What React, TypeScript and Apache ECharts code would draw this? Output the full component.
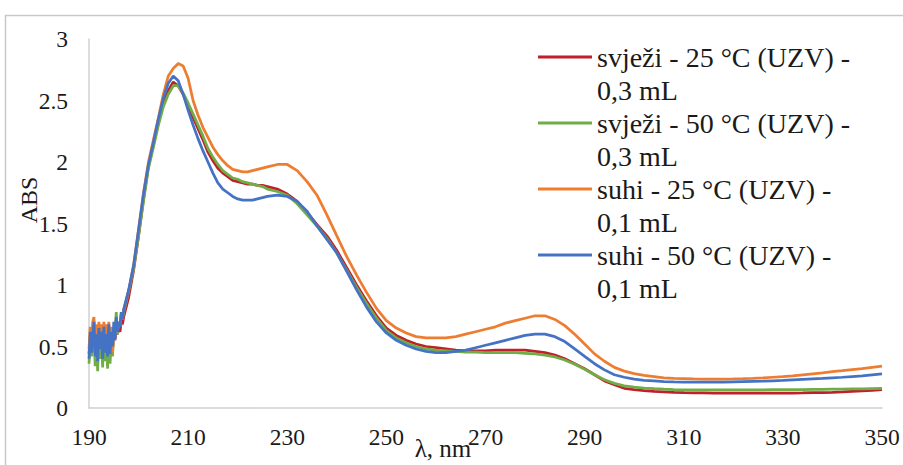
import React, { useEffect, useRef } from "react";
import * as echarts from "echarts";

// Wavelengths (nm)
const WL_NOISE = [190, 190.25, 190.5, 190.75, 191, 191.25, 191.5, 191.75, 192, 192.25, 192.5, 192.75, 193, 193.25, 193.5, 193.75, 194, 194.25, 194.5, 194.75, 195, 195.25, 195.5, 195.75, 196, 196.25, 196.5, 196.75, 197];
const WL_PEAK = [198, 199, 200, 201, 202, 203, 204, 205, 206, 207, 208, 209, 210, 211, 212, 213, 214, 215, 216, 217, 218, 219, 220, 221, 222, 223, 224, 225];
const WL_TAIL = [226, 228, 230, 232, 234, 236, 238, 240, 242, 244, 246, 248, 250, 252, 254, 256, 258, 260, 262, 264, 266, 268, 270, 272, 274, 276, 278, 280, 282, 284, 286, 288, 290, 292, 294, 296, 298, 300, 302, 304, 306, 308, 310, 312, 314, 316, 318, 320, 322, 324, 326, 328, 330, 332, 334, 336, 338, 340, 342, 344, 346, 348, 350];

const X_TICKS = [190, 210, 230, 250, 270, 290, 310, 330, 350];

const NAMES = [
  "svježi - 25 °C (UZV) - 0,3 mL",
  "svježi - 50 °C (UZV) - 0,3 mL",
  "suhi - 25 °C (UZV) - 0,1 mL",
  "suhi - 50 °C (UZV) - 0,1 mL",
];
const COLORS = ["#C0202A", "#70AD47", "#ED7D31", "#4472C4"];

// svježi - 25 °C
const RED_NOISE = [0.44, 0.58, 0.46, 0.6, 0.64, 0.45, 0.58, 0.42, 0.62, 0.47, 0.6, 0.44, 0.62, 0.46, 0.58, 0.44, 0.62, 0.46, 0.58, 0.48, 0.6, 0.56, 0.62, 0.6, 0.64, 0.62, 0.7, 0.68, 0.74];
const RED_PEAK = [0.9, 1.12, 1.4, 1.7, 1.97, 2.14, 2.32, 2.48, 2.58, 2.65, 2.62, 2.55, 2.46, 2.36, 2.27, 2.18, 2.08, 2.01, 1.95, 1.91, 1.88, 1.85, 1.84, 1.83, 1.82, 1.82, 1.81, 1.81];
const RED_TAIL = [1.8, 1.78, 1.74, 1.68, 1.59, 1.49, 1.4, 1.28, 1.14, 1.0, 0.87, 0.75, 0.65, 0.59, 0.55, 0.52, 0.5, 0.49, 0.48, 0.47, 0.465, 0.465, 0.465, 0.47, 0.47, 0.47, 0.47, 0.46, 0.45, 0.43, 0.4, 0.36, 0.32, 0.27, 0.22, 0.19, 0.16, 0.15, 0.142, 0.136, 0.132, 0.128, 0.125, 0.123, 0.122, 0.121, 0.12, 0.12, 0.12, 0.12, 0.12, 0.12, 0.12, 0.121, 0.122, 0.124, 0.126, 0.128, 0.131, 0.135, 0.139, 0.144, 0.15];

// svježi - 50 °C
const GREEN_NOISE = [0.36, 0.55, 0.42, 0.56, 0.6, 0.34, 0.55, 0.3, 0.58, 0.4, 0.55, 0.33, 0.62, 0.38, 0.56, 0.32, 0.6, 0.36, 0.56, 0.42, 0.64, 0.62, 0.78, 0.6, 0.7, 0.66, 0.76, 0.72, 0.78];
const GREEN_PEAK = [0.95, 1.13, 1.4, 1.68, 1.95, 2.12, 2.3, 2.45, 2.55, 2.62, 2.62, 2.56, 2.48, 2.39, 2.3, 2.21, 2.11, 2.04, 1.98, 1.93, 1.9, 1.87, 1.86, 1.84, 1.83, 1.82, 1.81, 1.8];
const GREEN_TAIL = [1.78, 1.76, 1.73, 1.66, 1.57, 1.48, 1.38, 1.26, 1.12, 0.98, 0.85, 0.73, 0.63, 0.57, 0.53, 0.5, 0.48, 0.47, 0.465, 0.46, 0.455, 0.455, 0.45, 0.45, 0.45, 0.45, 0.445, 0.44, 0.43, 0.415, 0.39, 0.355, 0.315, 0.27, 0.23, 0.2, 0.18, 0.17, 0.162, 0.157, 0.153, 0.15, 0.148, 0.147, 0.147, 0.147, 0.147, 0.147, 0.148, 0.148, 0.148, 0.149, 0.149, 0.15, 0.15, 0.151, 0.152, 0.153, 0.154, 0.155, 0.156, 0.158, 0.16];

// suhi - 25 °C
const ORANGE_NOISE = [0.48, 0.66, 0.55, 0.7, 0.74, 0.55, 0.68, 0.52, 0.7, 0.58, 0.68, 0.5, 0.7, 0.56, 0.68, 0.52, 0.7, 0.48, 0.66, 0.45, 0.62, 0.58, 0.72, 0.65, 0.7, 0.68, 0.76, 0.74, 0.8];
const ORANGE_PEAK = [0.95, 1.16, 1.45, 1.75, 2.0, 2.18, 2.36, 2.55, 2.7, 2.76, 2.8, 2.78, 2.68, 2.5, 2.38, 2.28, 2.2, 2.12, 2.06, 2.01, 1.97, 1.94, 1.93, 1.92, 1.92, 1.93, 1.94, 1.95];
const ORANGE_TAIL = [1.96, 1.98, 1.98, 1.93, 1.84, 1.73, 1.57, 1.4, 1.23, 1.08, 0.94, 0.81, 0.71, 0.65, 0.61, 0.58, 0.57, 0.57, 0.57, 0.58, 0.6, 0.62, 0.64, 0.66, 0.69, 0.71, 0.73, 0.75, 0.75, 0.72, 0.67, 0.6, 0.52, 0.44, 0.38, 0.33, 0.3, 0.28, 0.265, 0.255, 0.245, 0.24, 0.238, 0.236, 0.235, 0.235, 0.235, 0.236, 0.238, 0.241, 0.245, 0.25, 0.255, 0.262, 0.27, 0.278, 0.286, 0.295, 0.303, 0.312, 0.32, 0.33, 0.34];

// suhi - 50 °C
const BLUE_NOISE = [0.4, 0.62, 0.45, 0.58, 0.7, 0.42, 0.6, 0.38, 0.65, 0.48, 0.62, 0.4, 0.66, 0.45, 0.6, 0.42, 0.68, 0.44, 0.62, 0.5, 0.7, 0.55, 0.74, 0.62, 0.7, 0.66, 0.78, 0.72, 0.8];
const BLUE_PEAK = [0.96, 1.16, 1.45, 1.74, 1.98, 2.16, 2.35, 2.52, 2.64, 2.7, 2.66, 2.55, 2.42, 2.3, 2.19, 2.09, 2.0, 1.91, 1.83, 1.78, 1.75, 1.72, 1.7, 1.69, 1.69, 1.69, 1.7, 1.71];
const BLUE_TAIL = [1.72, 1.73, 1.72, 1.68, 1.6, 1.48, 1.37, 1.26, 1.11, 0.96, 0.82, 0.7, 0.61, 0.55, 0.51, 0.48, 0.46, 0.45, 0.45, 0.46, 0.47, 0.49, 0.51, 0.53, 0.55, 0.57, 0.59, 0.6, 0.6, 0.58, 0.54, 0.48, 0.42, 0.36, 0.31, 0.27, 0.25, 0.235, 0.225, 0.22, 0.215, 0.212, 0.21, 0.21, 0.21, 0.21, 0.21, 0.212, 0.214, 0.216, 0.218, 0.221, 0.224, 0.228, 0.232, 0.236, 0.24, 0.245, 0.25, 0.256, 0.262, 0.27, 0.278];

const WL = [...WL_NOISE, ...WL_PEAK, ...WL_TAIL];
const SERIES_VALUES = [
  [...RED_NOISE, ...RED_PEAK, ...RED_TAIL],
  [...GREEN_NOISE, ...GREEN_PEAK, ...GREEN_TAIL],
  [...ORANGE_NOISE, ...ORANGE_PEAK, ...ORANGE_TAIL],
  [...BLUE_NOISE, ...BLUE_PEAK, ...BLUE_TAIL],
];

const FONT = "Liberation Serif";
const TEXT_COLOR = "#1a1a1a";
const FONT_CSS = `.abs-chart svg text { font-family: "Liberation Serif", serif !important; }`;

export default function App() {
  const ref = useRef<HTMLDivElement>(null);

  useEffect(() => {
    if (!ref.current) return;
    const chart = echarts.init(ref.current, undefined, { renderer: "svg" });
    chart.setOption({
      animation: false,
      backgroundColor: "#ffffff",
      textStyle: { fontFamily: FONT },
      grid: { left: 89, right: 21, top: 39, bottom: 57, containLabel: false, outerBoundsMode: "none" },
      graphic: [
        {
          type: "rect",
          silent: true,
          z: -10,
          shape: { x: 5.5, y: 15.5, width: 1000, height: 1000 },
          style: { fill: "none", stroke: "#c8c8c8", lineWidth: 1.5 },
        },
      ],
      legend: {
        orient: "vertical",
        left: 538,
        top: 7.5,
        padding: 0,
        itemGap: -33,
        itemWidth: 54,
        itemHeight: 3,
        icon: "rect",
        data: NAMES,
        formatter: (name: string) => {
          const i = name.lastIndexOf(" - ");
          return "\n" + name.slice(0, i) + " -\n" + name.slice(i + 3);
        },
        textStyle: {
          fontFamily: FONT,
          fontSize: 28,
          lineHeight: 33,
          color: TEXT_COLOR,
        },
      },
      xAxis: {
        type: "value",
        min: 190,
        max: 350,
        name: "λ, nm",
        nameLocation: "middle",
        nameGap: 28,
        nameMoveOverlap: false,
        nameTextStyle: {
          fontFamily: FONT,
          fontSize: 25,
          color: TEXT_COLOR,
          padding: [0, 85, 0, 0],
        },
        axisLine: { show: true, lineStyle: { color: "#d0d0d0", width: 1.5 } },
        axisTick: { show: false },
        splitLine: { show: false },
        axisLabel: {
          customValues: X_TICKS,
          fontFamily: FONT,
          fontSize: 23.5,
          color: TEXT_COLOR,
          margin: 17,
        },
      },
      yAxis: {
        type: "value",
        min: 0,
        max: 3,
        interval: 0.5,
        name: "ABS",
        nameLocation: "middle",
        nameGap: 48,
        nameMoveOverlap: false,
        nameTextStyle: {
          fontFamily: FONT,
          fontSize: 24,
          color: TEXT_COLOR,
          padding: [0, 0, 0, 47],
        },
        axisLine: { show: true, lineStyle: { color: "#d0d0d0", width: 1.5 } },
        axisTick: { show: false },
        splitLine: { show: false },
        axisLabel: {
          fontFamily: FONT,
          fontSize: 23.5,
          color: TEXT_COLOR,
          margin: 21,
        },
      },
      series: NAMES.map((name, s) => ({
        name,
        type: "line",
        symbol: "none",
        color: COLORS[s],
        lineStyle: { color: COLORS[s], width: 2.75 },
        data: WL.map((x, i) => [x, SERIES_VALUES[s][i]]),
      })),
    });
    return () => chart.dispose();
  }, []);

  return (
    <>
      <style>{FONT_CSS}</style>
      <div
        ref={ref}
        className="abs-chart"
        style={{ position: "fixed", left: 0, top: 0, width: 903, height: 465, background: "#fff" }}
      />
    </>
  );
}
